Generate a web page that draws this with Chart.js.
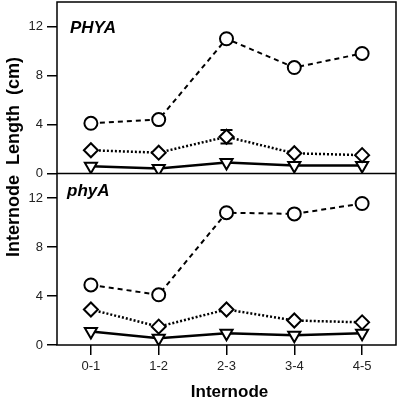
<!DOCTYPE html>
<html><head><meta charset="utf-8">
<script src="https://cdn.jsdelivr.net/npm/chart.js@4/dist/chart.umd.min.js"></script>
<style>html,body{margin:0;padding:0;background:#fff;}#wrap{position:relative;width:400px;height:401px;}</style>
</head><body><div id="wrap"><canvas id="c" width="400" height="401"></canvas></div>
<script>
const categories = ['0-1', '1-2', '2-3', '3-4', '4-5'];
const yTicks = [0, 4, 8, 12];
const yMax = 14;
// Top panel: PHYA
const PHYA_circle = [4.1, 4.4, 11.0, 8.65, 9.8];
const PHYA_diamond = [1.9, 1.7, 3.0, 1.65, 1.5];
const PHYA_diamondErr = [0, 0, 0.55, 0, 0];
const PHYA_triangle = [0.6, 0.4, 0.9, 0.65, 0.65];
// Bottom panel: phyA
const phyA_circle = [4.9, 4.1, 10.8, 10.7, 11.55];
const phyA_diamond = [2.9, 1.5, 2.9, 2.0, 1.85];
const phyA_triangle = [1.1, 0.55, 0.95, 0.8, 0.95];
const panelTitles = ['PHYA', 'phyA'];
const xTitle = 'Internode';
const yTitle = 'Internode  Length  (cm)';

const FONT = "'Liberation Sans', Arial, Helvetica, sans-serif";

function circleDs(data, axis) {
  return {data, yAxisID: axis, borderColor: '#000', borderWidth: 2, borderDash: [5, 4],
    pointStyle: 'circle', pointRadius: 6.5, pointBorderWidth: 2, pointBackgroundColor: '#fff', pointBorderColor: '#000', tension: 0};
}
function diamondDs(data, axis, err) {
  return {data, yAxisID: axis, errors: err, borderColor: '#000', borderWidth: 2.5, borderDash: [2, 2],
    pointStyle: 'rectRot', pointRadius: 7, pointBorderWidth: 2, pointBackgroundColor: '#fff', pointBorderColor: '#000', tension: 0};
}
function triDs(data, axis) {
  return {data, yAxisID: axis, borderColor: '#000', borderWidth: 2.5,
    pointStyle: 'triangle', pointRotation: 180, pointRadius: 7, pointBorderWidth: 2, pointBackgroundColor: '#fff', pointBorderColor: '#000', tension: 0};
}

function yAxis() {
  return {
    type: 'linear', position: 'left', stack: 'panels', stackWeight: 1,
    min: 0, max: yMax,
    afterBuildTicks: (a) => { a.ticks = yTicks.map(v => ({value: v})); },
    afterFit: (a) => { a.width = 57; a.paddingTop = 0; a.paddingBottom = 0; a.paddingLeft = 0; a.paddingRight = 0; },
    border: {display: false},
    grid: {drawOnChartArea: false, drawTicks: true, tickLength: 10, color: '#000', lineWidth: 1.5},
    ticks: {color: '#222', padding: 4, font: {family: FONT, size: 13}}
  };
}

const boxPlugin = {
  id: 'boxPlugin',
  beforeDatasetsDraw(chart) {
    const ctx = chart.ctx;
    const x = chart.scales.x;
    ctx.save();
    ctx.strokeStyle = '#000';
    ctx.lineWidth = 2;
    chart.data.datasets.forEach((ds) => {
      if (!ds.errors) return;
      const y = chart.scales[ds.yAxisID];
      ds.errors.forEach((e, i) => {
        if (!e) return;
        const px = x.getPixelForValue(i);
        const y1 = y.getPixelForValue(ds.data[i] + e);
        const y0 = y.getPixelForValue(ds.data[i] - e);
        ctx.beginPath();
        ctx.moveTo(px, y0); ctx.lineTo(px, y1);
        ctx.moveTo(px - 6, y0); ctx.lineTo(px + 6, y0);
        ctx.moveTo(px - 6, y1); ctx.lineTo(px + 6, y1);
        ctx.stroke();
      });
    });
    ctx.restore();
  },
  afterDraw(chart) {
    const ctx = chart.ctx;
    const a = chart.chartArea;
    const top = chart.scales.yTop, bot = chart.scales.yBot;
    ctx.save();
    ctx.strokeStyle = '#000';
    ctx.lineWidth = 1.5;
    ctx.strokeRect(a.left, a.top, a.right - a.left, a.bottom - a.top);
    ctx.beginPath();
    ctx.moveTo(a.left, top.bottom); ctx.lineTo(a.right, top.bottom);
    ctx.stroke();
    ctx.fillStyle = '#000';
    ctx.font = `italic bold 17px ${FONT}`;
    ctx.textBaseline = 'alphabetic';
    ctx.textAlign = 'left';
    ctx.fillText(panelTitles[0], a.left + 13, top.top + 31);
    ctx.fillText(panelTitles[1], a.left + 10, bot.top + 22);
    ctx.font = `bold 17px ${FONT}`;
    ctx.textAlign = 'center';
    ctx.textBaseline = 'middle';
    ctx.fillText(xTitle, (a.left + a.right) / 2 + 3, 392);
    ctx.font = `bold 18px ${FONT}`;
    ctx.translate(14, 157);
    ctx.rotate(-Math.PI / 2);
    ctx.fillText(yTitle, 0, 0);
    ctx.restore();
  }
};

new Chart(document.getElementById('c'), {
  type: 'line',
  data: {
    labels: categories,
    datasets: [
      circleDs(PHYA_circle, 'yTop'), diamondDs(PHYA_diamond, 'yTop', PHYA_diamondErr), triDs(PHYA_triangle, 'yTop'),
      circleDs(phyA_circle, 'yBot'), diamondDs(phyA_diamond, 'yBot', null), triDs(phyA_triangle, 'yBot')
    ]
  },
  options: {
    responsive: false, devicePixelRatio: 1, animation: false,
    layout: {autoPadding: false, padding: {left: 0, top: 2, right: 4, bottom: 0}},
    plugins: {legend: {display: false}, tooltip: {enabled: false}},
    scales: {
      x: {
        type: 'category', offset: true,
        afterFit: (a) => { a.height = 56; a.paddingLeft = 0; a.paddingRight = 0; a.paddingTop = 0; a.paddingBottom = 0; },
        border: {display: false},
        grid: {offset: false, drawOnChartArea: false, drawTicks: true, tickLength: 10, color: '#000', lineWidth: 1.5},
        ticks: {color: '#222', padding: 4, maxRotation: 0, font: {family: FONT, size: 13}}
      },
      yBot: yAxis(),
      yTop: yAxis()
    }
  },
  plugins: [boxPlugin]
});
</script></body></html>
